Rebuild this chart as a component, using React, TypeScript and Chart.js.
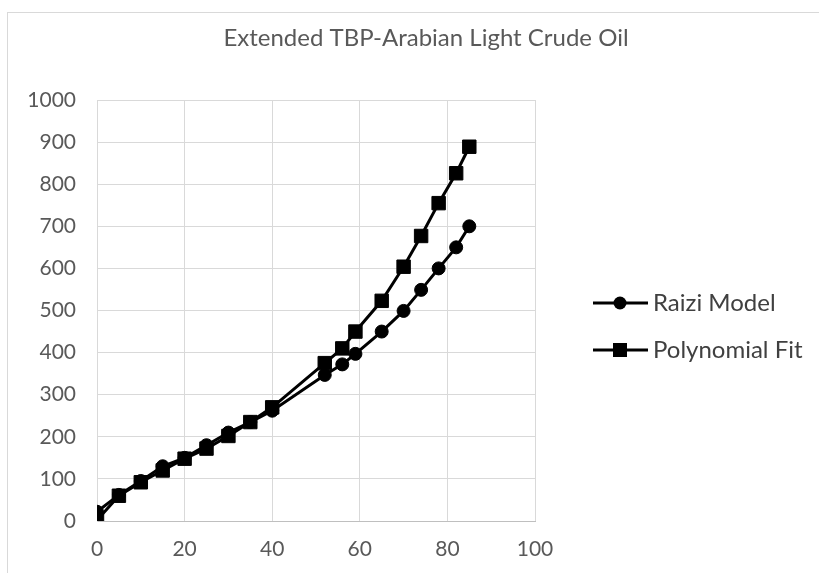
import React, { useEffect, useRef } from "react";
import { Chart, registerables } from "chart.js";

Chart.register(...registerables);

const chartTitle = "Extended TBP-Arabian Light Crude Oil";
const xValues = [0, 5, 10, 15, 20, 25, 30, 35, 40, 52, 56, 59, 65, 70, 74, 78, 82, 85];
const raiziModel = [22, 62, 95, 130, 150, 180, 210, 235, 262, 347, 372, 397, 450, 499, 549, 600, 650, 700];
const polynomialFit = [2, 60, 92, 120, 148, 172, 202, 235, 270, 375, 410, 450, 523, 604, 677, 755, 826, 889];
const seriesNames = ["Raizi Model", "Polynomial Fit"];
const xMin = 0;
const xMax = 100;
const xStep = 20;
const yMin = 0;
const yMax = 1000;
const yStep = 100;

const FONT = "Lato, 'Noto Sans', sans-serif";

const overlayPlugin = {
  id: "overlay",
  afterDraw(chart: any) {
    const ctx = chart.ctx;
    ctx.save();
    // title
    ctx.fillStyle = "#595959";
    ctx.font = `24px ${FONT}`;
    ctx.textAlign = "center";
    ctx.textBaseline = "middle";
    ctx.fillText(chartTitle, 426, 38);
    // legend
    const styles = ["circle", "rect"];
    chart.data.datasets.forEach((ds: any, i: number) => {
      const y = 303 + i * 47;
      ctx.strokeStyle = "#000";
      ctx.lineWidth = 3;
      ctx.beginPath();
      ctx.moveTo(593, y);
      ctx.lineTo(648, y);
      ctx.stroke();
      ctx.fillStyle = "#000";
      if (styles[i] === "circle") {
        ctx.beginPath();
        ctx.arc(620, y, 6.5, 0, Math.PI * 2);
        ctx.fill();
      } else {
        ctx.fillRect(613, y - 7, 14, 14);
      }
      ctx.fillStyle = "#404040";
      ctx.font = `24px ${FONT}`;
      ctx.textAlign = "left";
      ctx.textBaseline = "middle";
      ctx.fillText(ds.label, 653, y);
    });
    ctx.restore();
  },
};

export default function App() {
  const canvasRef = useRef<HTMLCanvasElement>(null);

  useEffect(() => {
    if (!canvasRef.current) return;
    const toPoints = (ys: number[]) => xValues.map((x, i) => ({ x, y: ys[i] }));
    const chart = new Chart(canvasRef.current, {
      type: "line",
      data: {
        datasets: [
          {
            label: seriesNames[0],
            data: toPoints(raiziModel),
            borderColor: "#000",
            backgroundColor: "#000",
            borderWidth: 3,
            pointStyle: "circle",
            pointRadius: 6.5,
            pointBorderWidth: 1,
            order: 1,
          },
          {
            label: seriesNames[1],
            data: toPoints(polynomialFit),
            borderColor: "#000",
            backgroundColor: "#000",
            borderWidth: 3,
            pointStyle: "rect",
            pointRadius: 9.5,
            pointBorderWidth: 1,
            order: 0,
          },
        ],
      },
      options: {
        animation: false,
        responsive: false,
        devicePixelRatio: 1,
        layout: { padding: { top: 100, left: 0, right: 284, bottom: 0 } },
        plugins: {
          legend: { display: false },
          title: { display: false },
          tooltip: { enabled: false },
        },
        scales: {
          x: {
            type: "linear",
            min: xMin,
            max: xMax,
            ticks: {
              stepSize: xStep,
              color: "#595959",
              font: { family: FONT, size: 21 },
              padding: 16,
              callback: (v: any) => String(v),
            },
            grid: { color: "#d9d9d9", lineWidth: 1, drawTicks: false },
            border: { color: "#bfbfbf", width: 1 },
            afterFit(scale: any) {
              scale.height = 52;
            },
          },
          y: {
            type: "linear",
            min: yMin,
            max: yMax,
            ticks: {
              stepSize: yStep,
              color: "#595959",
              font: { family: FONT, size: 21 },
              padding: 21,
              callback: (v: any) => String(v),
            },
            grid: { color: "#d9d9d9", lineWidth: 1, drawTicks: false },
            border: { color: "#d9d9d9", width: 1 },
            afterFit(scale: any) {
              scale.width = 97;
            },
          },
        },
      },
      plugins: [overlayPlugin],
    });
    return () => chart.destroy();
  }, []);

  return (
    <div style={{ position: "absolute", left: 0, top: 0, width: 819, height: 573, overflow: "hidden", background: "#fff" }}>
      <div
        style={{
          position: "absolute",
          left: 7,
          top: 12,
          width: 830,
          height: 600,
          borderTop: "1px solid #d9d9d9",
          borderLeft: "1px solid #d9d9d9",
        }}
      />
      <canvas ref={canvasRef} width={819} height={573} style={{ position: "absolute", left: 0, top: 0 }} />
    </div>
  );
}
